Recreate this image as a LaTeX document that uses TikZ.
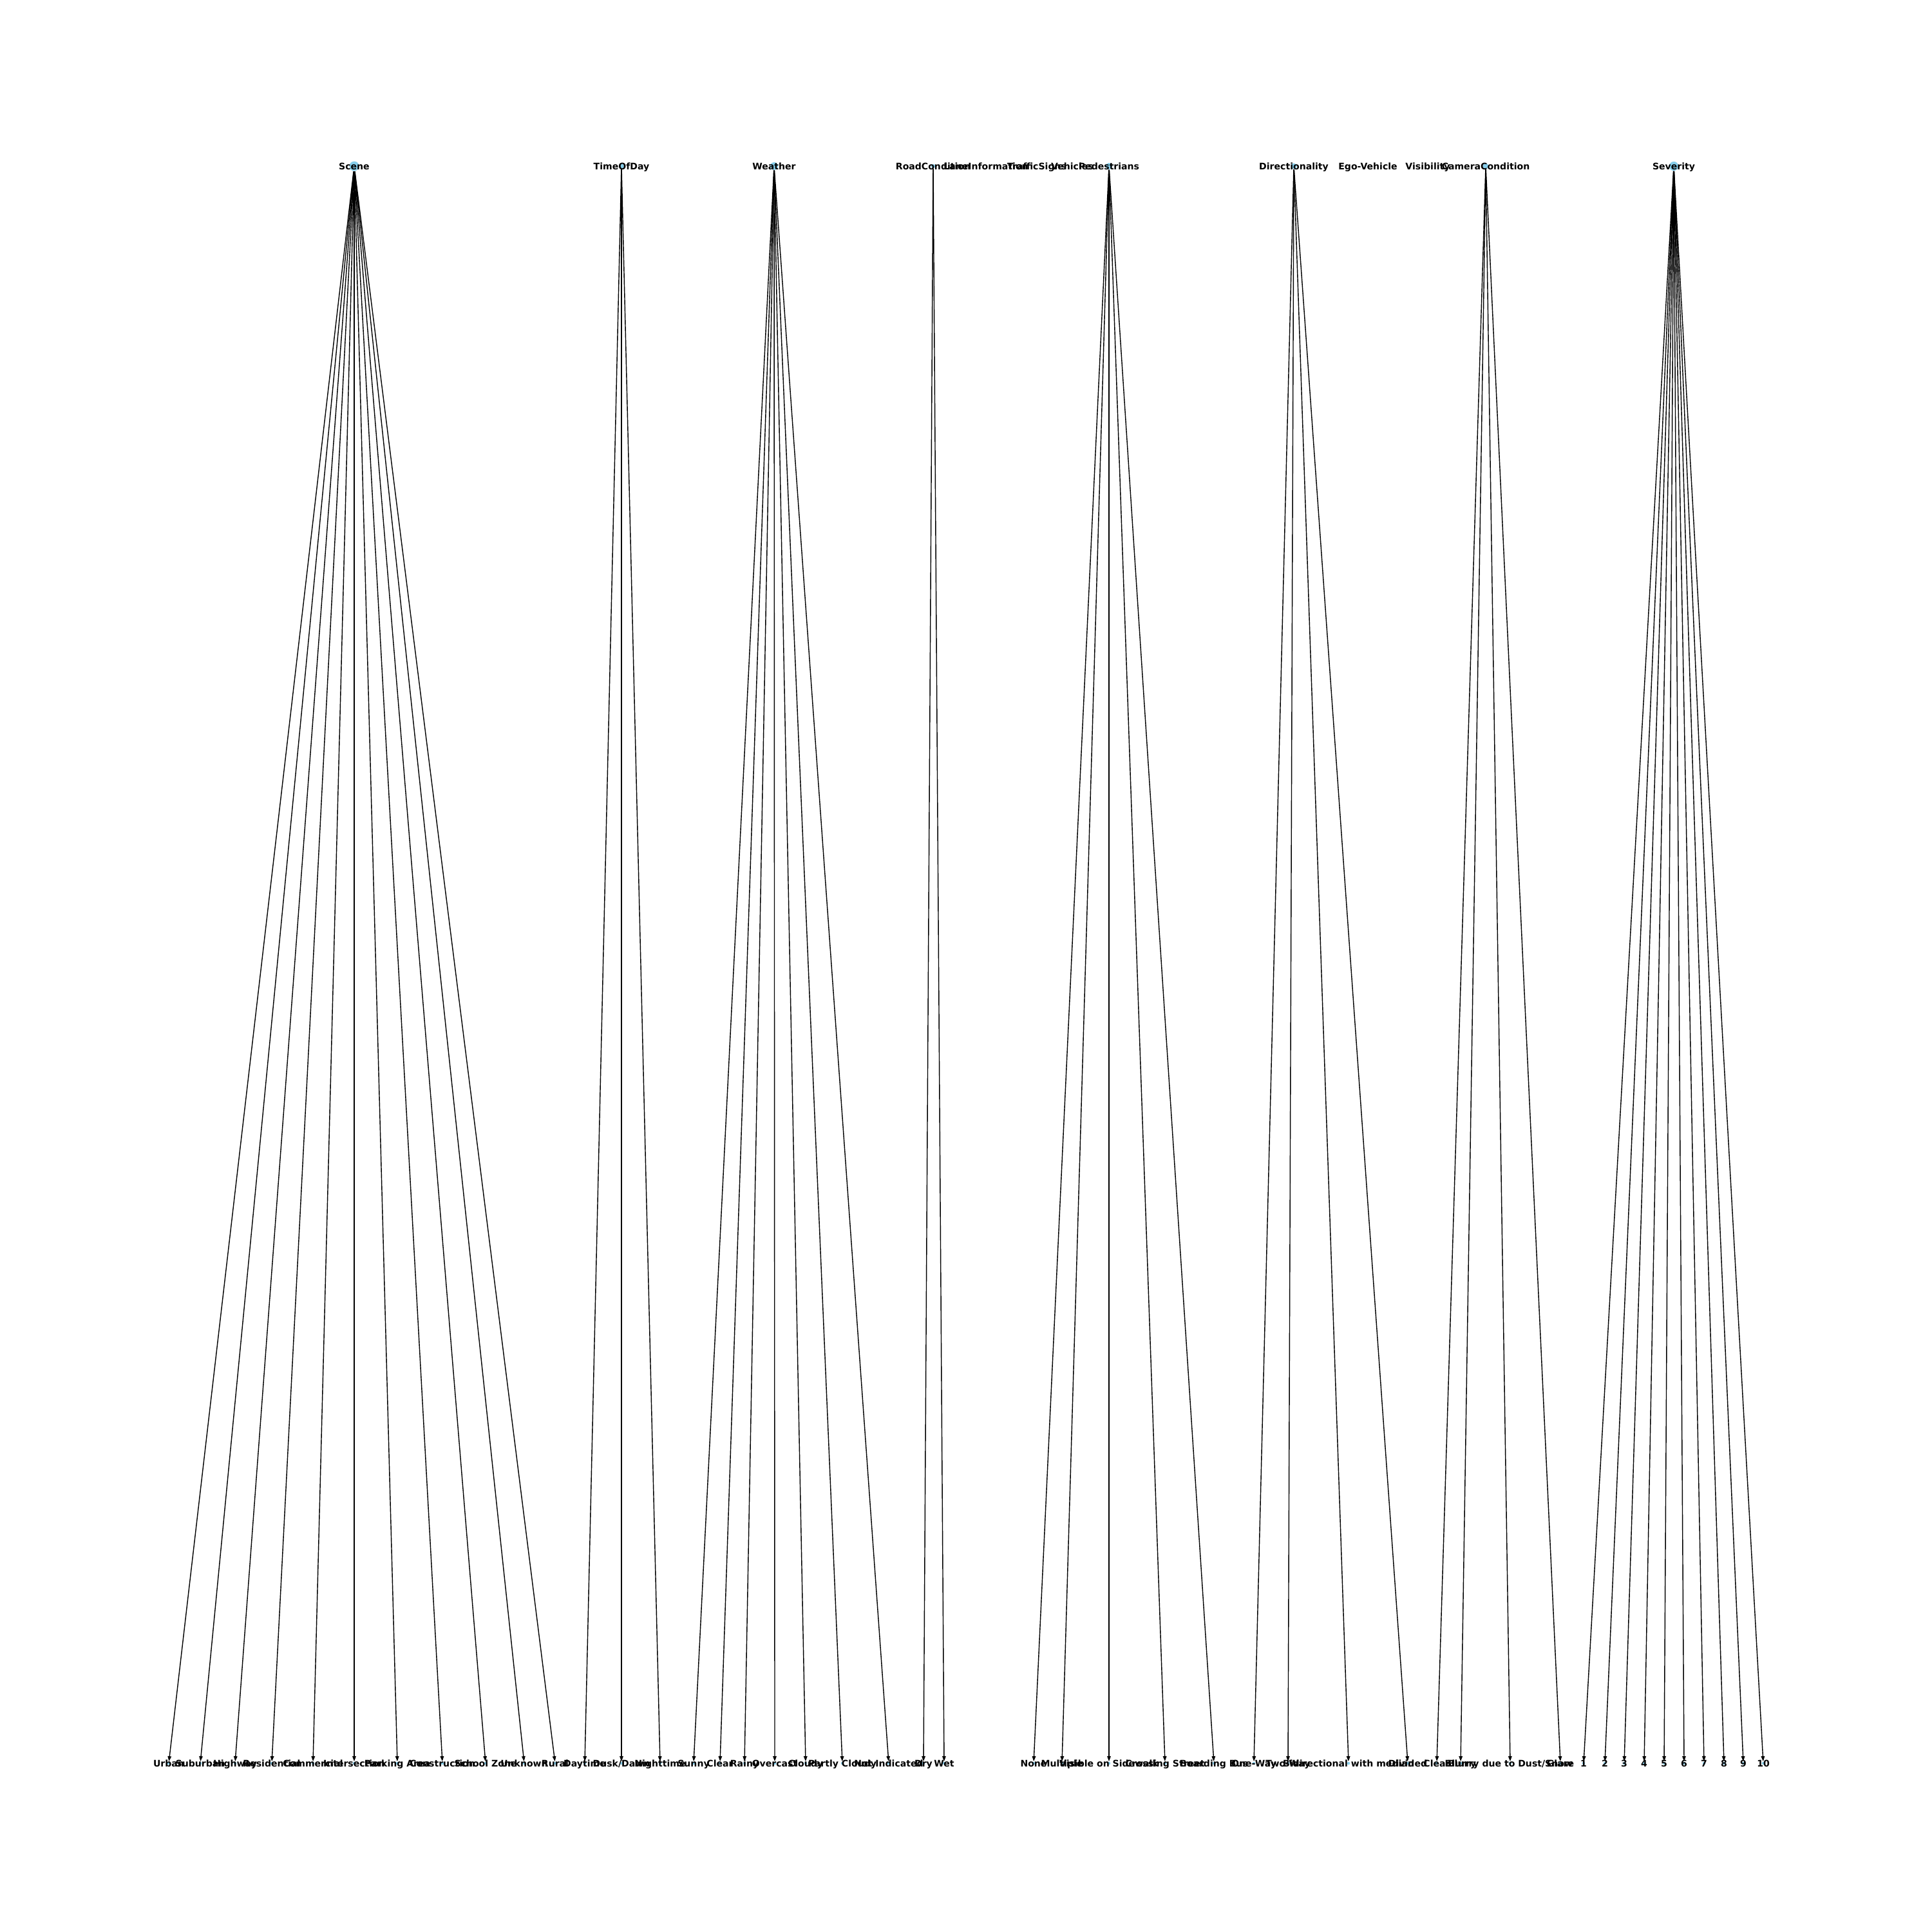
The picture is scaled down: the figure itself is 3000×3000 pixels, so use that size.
\documentclass[tikz,border=0pt]{standalone}
\usepackage{fontspec}
\setmainfont{DejaVu Sans}
\usetikzlibrary{arrows.meta}
\definecolor{skyblue}{HTML}{87CEEB}
\pgfdeclarelayer{background}
\pgfsetlayers{background,main}
\tikzset{
  testo/.style={text height=2.92pt, text depth=0pt, inner sep=0pt},
  every label/.style={testo},
  radice/.style={circle, fill=skyblue, inner sep=0pt, minimum size=#1},
  foglia/.style={circle, fill=skyblue, inner sep=0pt, minimum size=0.045cm},
  arco/.style={-{Triangle[length=0.08cm,width=0.055cm]}, line width=0.4pt, black},
}
\begin{document}
\begin{tikzpicture}[x=0.01cm, y=-0.01cm, font=\fontsize{4}{5}\selectfont\bfseries]
  \useasboundingbox (0,0) rectangle (3000,3000);

  % Nodi principali
  \node[radice=0.15cm, label=center:Scene] (scene) at (550,258) {};
  \node[radice=0.078cm, label=center:TimeOfDay] (timeofday) at (965,258) {};
  \node[radice=0.12cm, label=center:Weather] (weather) at (1202,258) {};
  \node[radice=0.064cm, label=center:RoadCondition] (roadcond) at (1449,258) {};
  \node[testo] (laneinfo) at (1531,258) {LaneInformation};
  \node[testo] (trafficsigns) at (1610,258) {TrafficSigns};
  \node[testo] (vehicles) at (1665,258) {Vehicles};
  \node[radice=0.101cm, label=center:Pedestrians] (pedestrians) at (1722,258) {};
  \node[radice=0.09cm, label=center:Directionality] (directionality) at (2009,258) {};
  \node[testo] (egovehicle) at (2124,258) {Ego-Vehicle};
  \node[testo] (visibility) at (2217,258) {Visibility};
  \node[radice=0.09cm, label=center:CameraCondition] (cameracond) at (2307,258) {};
  \node[radice=0.143cm, label=center:Severity] (severity) at (2599,258) {};

  % Foglie
  \node[foglia, label=center:Urban] (urban) at (262,2738) {};
  \node[foglia, label=center:Suburban] (suburban) at (311,2738) {};
  \node[foglia, label=center:Highway] (highway) at (365,2738) {};
  \node[foglia, label=center:Residential] (residential) at (422,2738) {};
  \node[foglia, label=center:Commercial] (commercial) at (486,2738) {};
  \node[foglia, label=center:Intersection] (intersection) at (550,2738) {};
  \node[foglia, label=center:Parking Area] (parking) at (617,2738) {};
  \node[foglia, label=center:Construction] (construction) at (687,2738) {};
  \node[foglia, label=center:School Zone] (school) at (754,2738) {};
  \node[foglia, label=center:Unknown] (unknown) at (814,2738) {};
  \node[foglia, label=center:Rural] (rural) at (862,2738) {};

  \node[foglia, label=center:Daytime] (daytime) at (908,2738) {};
  \node[foglia, label=center:Dusk/Dawn] (duskdawn) at (965,2738) {};
  \node[foglia, label=center:Nighttime] (nighttime) at (1025,2738) {};

  \node[foglia, label=center:Sunny] (sunny) at (1077,2738) {};
  \node[foglia, label=center:Clear] (wclear) at (1118,2738) {};
  \node[foglia, label=center:Rainy] (rainy) at (1156,2738) {};
  \node[foglia, label=center:Overcast] (overcast) at (1203,2738) {};
  \node[foglia, label=center:Cloudy] (cloudy) at (1251,2738) {};
  \node[foglia, label=center:Partly Cloudy] (partly) at (1308,2738) {};
  \node[foglia, label=center:Not Indicated] (notind) at (1380,2738) {};

  \node[foglia, label=center:Dry] (dry) at (1434,2738) {};
  \node[foglia, label=center:Wet] (wet) at (1466,2738) {};

  \node[foglia, label=center:None] (pnone) at (1605,2738) {};
  \node[foglia, label=center:Multiple] (multiple) at (1649,2738) {};
  \node[foglia, label=center:Visible on Sidewalk] (sidewalk) at (1722,2738) {};
  \node[foglia, label=center:Crossing Street] (crossing) at (1809,2738) {};
  \node[foglia, label=center:Boarding Bus] (boarding) at (1885,2738) {};

  \node[foglia, label=center:One-Way] (oneway) at (1947,2738) {};
  \node[foglia, label=center:Two-Way] (twoway) at (2000,2738) {};
  \node[foglia, label=center:Bidirectional with median] (bidir) at (2094,2738) {};
  \node[foglia, label=center:Divided] (divided) at (2186,2738) {};

  \node[foglia, label=center:Clear] (cclear) at (2231,2738) {};
  \node[foglia, label=center:Blurry] (blurry) at (2268,2738) {};
  \node[foglia, label=center:Blurry due to Dust/Snow] (blurrydust) at (2345,2738) {};
  \node[foglia, label=center:Glare] (glare) at (2423,2738) {};

  \node[foglia, label=center:1] (s1) at (2459,2738) {};
  \node[foglia, label=center:2] (s2) at (2492,2738) {};
  \node[foglia, label=center:3] (s3) at (2522,2738) {};
  \node[foglia, label=center:4] (s4) at (2553,2738) {};
  \node[foglia, label=center:5] (s5) at (2584,2738) {};
  \node[foglia, label=center:6] (s6) at (2615,2738) {};
  \node[foglia, label=center:7] (s7) at (2646,2738) {};
  \node[foglia, label=center:8] (s8) at (2677,2738) {};
  \node[foglia, label=center:9] (s9) at (2707,2738) {};
  \node[foglia, label=center:10] (s10) at (2738,2738) {};

  % Archi
  \begin{pgfonlayer}{background}
  \draw[arco] (scene) -- (urban);
  \draw[arco] (scene) -- (suburban);
  \draw[arco] (scene) -- (highway);
  \draw[arco] (scene) -- (residential);
  \draw[arco] (scene) -- (commercial);
  \draw[arco] (scene) -- (intersection);
  \draw[arco] (scene) -- (parking);
  \draw[arco] (scene) -- (construction);
  \draw[arco] (scene) -- (school);
  \draw[arco] (scene) -- (unknown);
  \draw[arco] (scene) -- (rural);

  \draw[arco] (timeofday) -- (daytime);
  \draw[arco] (timeofday) -- (duskdawn);
  \draw[arco] (timeofday) -- (nighttime);

  \draw[arco] (weather) -- (sunny);
  \draw[arco] (weather) -- (wclear);
  \draw[arco] (weather) -- (rainy);
  \draw[arco] (weather) -- (overcast);
  \draw[arco] (weather) -- (cloudy);
  \draw[arco] (weather) -- (partly);
  \draw[arco] (weather) -- (notind);

  \draw[arco] (roadcond) -- (dry);
  \draw[arco] (roadcond) -- (wet);

  \draw[arco] (pedestrians) -- (pnone);
  \draw[arco] (pedestrians) -- (multiple);
  \draw[arco] (pedestrians) -- (sidewalk);
  \draw[arco] (pedestrians) -- (crossing);
  \draw[arco] (pedestrians) -- (boarding);

  \draw[arco] (directionality) -- (oneway);
  \draw[arco] (directionality) -- (twoway);
  \draw[arco] (directionality) -- (bidir);
  \draw[arco] (directionality) -- (divided);

  \draw[arco] (cameracond) -- (cclear);
  \draw[arco] (cameracond) -- (blurry);
  \draw[arco] (cameracond) -- (blurrydust);
  \draw[arco] (cameracond) -- (glare);

  \draw[arco] (severity) -- (s1);
  \draw[arco] (severity) -- (s2);
  \draw[arco] (severity) -- (s3);
  \draw[arco] (severity) -- (s4);
  \draw[arco] (severity) -- (s5);
  \draw[arco] (severity) -- (s6);
  \draw[arco] (severity) -- (s7);
  \draw[arco] (severity) -- (s8);
  \draw[arco] (severity) -- (s9);
  \draw[arco] (severity) -- (s10);
  \end{pgfonlayer}
\end{tikzpicture}
\end{document}
